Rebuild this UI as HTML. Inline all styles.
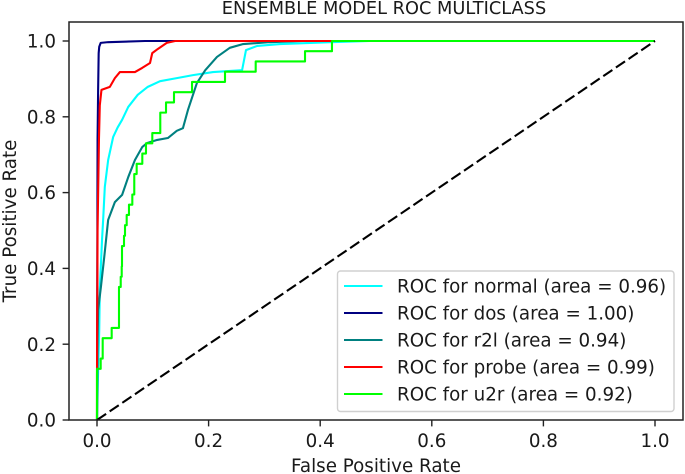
<!DOCTYPE html>
<html>
<head>
<meta charset="utf-8">
<title>Ensemble Model ROC Multiclass</title>
<style>
html,body{margin:0;padding:0;background:#fff;width:685px;height:474px;overflow:hidden}
svg{display:block}
text{font-family:"DejaVu Sans","Liberation Sans",sans-serif;fill:#1a1a1a}
</style>
</head>
<body>
<svg id="chart" xmlns="http://www.w3.org/2000/svg" width="685" height="474" viewBox="0 0 685 474"></svg>
<script>
const xTicks = [0, 0.2, 0.4, 0.6, 0.8, 1.0];
const yTicks = [0, 0.2, 0.4, 0.6, 0.8, 1.0];
const tickLabelsX = ["0.0", "0.2", "0.4", "0.6", "0.8", "1.0"];
const tickLabelsY = ["0.0", "0.2", "0.4", "0.6", "0.8", "1.0"];

const normalFpr = [0, .002, .004, .005, .009, .011, .014, .020, .029, .037, .045, .056, .073, .091, .113, .143, .172, .208, .260, .267, .287, .328, .418, .489, 1];
const normalTpr = [0, .132, .237, .343, .475, .528, .615, .686, .747, .772, .792, .826, .858, .879, .894, .902, .910, .918, .923, .976, .987, .992, .997, 1, 1];

const dosFpr = [0, .001, .002, .003, .004, .0066, .020, .086, .125, 1];
const dosTpr = [0, .740, .870, .968, .985, .995, .997, 1, 1, 1];

const r2lFpr = [0, .001, .002, .007, .013, .020, .032, .045, .056, .068, .081, .090, .108, .127, .143, .154, .163, .179, .194, .215, .238, .262, .310, .369, 1];
const r2lTpr = [0, .211, .290, .351, .430, .528, .575, .594, .641, .686, .720, .731, .739, .744, .763, .770, .818, .889, .923, .958, .982, .992, .997, 1, 1];

const probeFpr = [0, 0, .001, .0035, .005, .008, .023, .032, .041, .068, .081, .095, .099, .109, .125, .140, 1];
const probeTpr = [0, .111, .500, .740, .830, .871, .879, .902, .918, .918, .929, .942, .968, .979, .995, 1, 1];

/* staircase: move right to each fpr at the previous tpr, then up to the tpr */
const u2rFpr = [0, .0066, .0102, .0263, .0394, .0425, .0443, .0448, .0484, .0502, .0532, .0573, .0633, .0668, .0711, .0812, .0878, .0991, .1134, .1237, .138, .1703, .2294, .2844, .3728, .4211, 1];
const u2rTpr = [.135, .162, .216, .243, .351, .378, .405, .459, .486, .514, .541, .568, .595, .649, .676, .703, .730, .757, .811, .838, .865, .892, .919, .946, .973, 1, 1];

const chanceFpr = [0, 1];
const chanceTpr = [0, 1];

const legendLabels = [
  "ROC for normal (area = 0.96)",
  "ROC for dos (area = 1.00)",
  "ROC for r2l (area = 0.94)",
  "ROC for probe (area = 0.99)",
  "ROC for u2r (area = 0.92)"
];
const seriesNames = ["normal", "dos", "r2l", "probe", "u2r"];
const seriesColors = ["#00ffff", "#000080", "#008080", "#ff0000", "#00ff00"];

const NS = "http://www.w3.org/2000/svg";
const svg = document.getElementById("chart");
const plot = {left: 69, right: 683, top: 22, bottom: 420};
const xScale = v => 97 + v * 558;
const yScale = v => 420 - v * 379;

function make(tag, attrs, parent) {
  const el = document.createElementNS(NS, tag);
  for (const k in attrs) el.setAttribute(k, attrs[k]);
  (parent || svg).appendChild(el);
  return el;
}
function linePath(fx, fy) {
  return fx.map((v, i) => (i ? "L" : "M") + xScale(v).toFixed(2) + " " + yScale(fy[i]).toFixed(2)).join("");
}
function stepPath(fx, fy) {
  let d = "M" + xScale(0) + " " + yScale(0);
  let prev = 0;
  fx.forEach((v, i) => {
    d += "L" + xScale(v).toFixed(2) + " " + yScale(prev).toFixed(2);
    d += "L" + xScale(v).toFixed(2) + " " + yScale(fy[i]).toFixed(2);
    prev = fy[i];
  });
  return d;
}

const bg = make("rect", {x: 0, y: 0, width: 685, height: 474, fill: "#fff"});



const paths = [
  linePath(normalFpr, normalTpr),
  linePath(dosFpr, dosTpr),
  linePath(r2lFpr, r2lTpr),
  linePath(probeFpr, probeTpr),
  stepPath(u2rFpr, u2rTpr)
];
paths.forEach((d, i) => {
  const p = make("path", {d: d, fill: "none", stroke: seriesColors[i], "stroke-width": 2.1, "stroke-linejoin": "round"});
  
  
});

const chance = make("path", {d: linePath(chanceFpr, chanceTpr), fill: "none", stroke: "#000", "stroke-width": 2.1, "stroke-dasharray": "11 4.3"});



const frame = make("rect", {x: plot.left, y: plot.top, width: plot.right - plot.left, height: plot.bottom - plot.top, fill: "none", stroke: "#222", "stroke-width": 1.5});



xTicks.forEach((v, i) => {
  const x = xScale(v);
  const t = make("line", {x1: x, x2: x, y1: plot.bottom, y2: plot.bottom + 6.4, stroke: "#222", "stroke-width": 1.4});
  
  
  const l = make("text", {x: x, y: 447, "font-size": 18.3, "text-anchor": "middle"});
  l.textContent = tickLabelsX[i];
  
  
});
yTicks.forEach((v, i) => {
  const y = yScale(v);
  const t = make("line", {x1: plot.left - 6.4, x2: plot.left, y1: y, y2: y, stroke: "#222", "stroke-width": 1.4});
  
  
  const l = make("text", {x: 56, y: y + 6.6, "font-size": 18.3, "text-anchor": "end"});
  l.textContent = tickLabelsY[i];
  
  
});

const title = make("text", {x: 384, y: 14, "font-size": 17.75, "text-anchor": "middle"});
title.textContent = "ENSEMBLE MODEL ROC MULTICLASS";



const xTitle = make("text", {x: 376, y: 472, "font-size": 18.3, "text-anchor": "middle"});
xTitle.textContent = "False Positive Rate";



const yTitle = make("text", {x: 0, y: 0, "font-size": 18.3, "text-anchor": "middle", transform: "translate(16 221) rotate(-90)"});
yTitle.textContent = "True Positive Rate";



const legend = make("g", {});


const box = make("rect", {x: 337.5, y: 271, width: 336.5, height: 140.5, rx: 3, ry: 3, fill: "#fff", "fill-opacity": 0.85, stroke: "#d0d0d0", "stroke-width": 1.4}, legend);


legendLabels.forEach((label, i) => {
  const y = 286 + i * 27;
  const g = make("g", {}, legend);
  
  
  const sw = make("line", {x1: 344, x2: 382.5, y1: y, y2: y, stroke: seriesColors[i], "stroke-width": 1.9}, g);
  
  
  const t = make("text", {x: 397, y: y + 6.4, "font-size": 18.3}, g);
  t.textContent = label;
  
  
});
</script>
</body>
</html>
